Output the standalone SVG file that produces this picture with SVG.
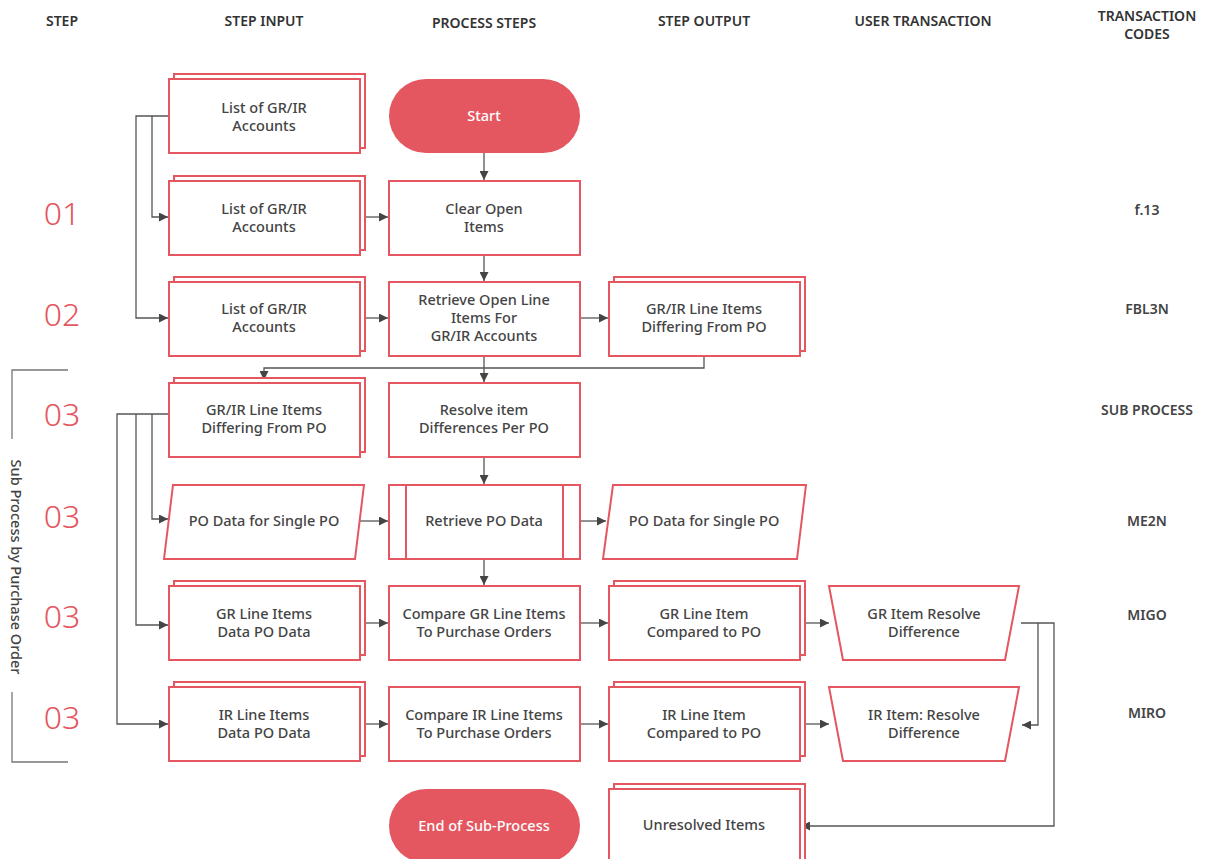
<svg xmlns="http://www.w3.org/2000/svg" width="1206" height="859" viewBox="0 0 1206 859">
<defs>
<style>
.box{fill:#fff;stroke:#E45760;stroke-width:2}
.pill{fill:#E45760;stroke:none}
.t{font-family:"Noto Sans","Liberation Sans",sans-serif;font-size:14.5px;font-weight:500;fill:#444;text-anchor:middle}
.tw{font-family:"Noto Sans","Liberation Sans",sans-serif;font-size:14.5px;font-weight:500;fill:#fff;text-anchor:middle}
.h{font-family:"Noto Sans","Liberation Sans",sans-serif;font-size:14px;font-weight:600;fill:#333;text-anchor:middle}
.num{font-family:"Noto Sans","Liberation Sans",sans-serif;font-size:32px;font-weight:300;fill:#E45760;text-anchor:middle}
.code{font-family:"Noto Sans","Liberation Sans",sans-serif;font-size:14px;font-weight:600;fill:#444;text-anchor:middle}
.side{font-family:"Noto Sans","Liberation Sans",sans-serif;font-size:14.5px;font-weight:500;fill:#444;text-anchor:middle}
.c{fill:none;stroke:#555;stroke-width:1.3}
.br{fill:none;stroke:#777;stroke-width:1.3}
</style>
<marker id="a" viewBox="0 0 10 10" refX="10" refY="5" markerWidth="9" markerHeight="9" markerUnits="userSpaceOnUse" orient="auto">
<path d="M0,0 L10,5 L0,10 z" fill="#444"/>
</marker>
</defs>

<g id="headers">
<text class="h" x="62" y="26">STEP</text>
<text class="h" x="264" y="26">STEP INPUT</text>
<text class="h" x="484" y="28">PROCESS STEPS</text>
<text class="h" x="704" y="26">STEP OUTPUT</text>
<text class="h" x="923" y="26">USER TRANSACTION</text>
<text class="h" x="1147" y="21">TRANSACTION</text>
<text class="h" x="1147" y="39">CODES</text>
</g>

<g id="step-numbers">
<text class="num" x="62" y="225">01</text>
<text class="num" x="62" y="326">02</text>
<text class="num" x="62" y="426">03</text>
<text class="num" x="62" y="528">03</text>
<text class="num" x="62" y="628">03</text>
<text class="num" x="62" y="729">03</text>
</g>

<g id="codes">
<text class="code" x="1147" y="215">f.13</text>
<text class="code" x="1147" y="314">FBL3N</text>
<text class="code" x="1147" y="415">SUB PROCESS</text>
<text class="code" x="1147" y="526">ME2N</text>
<text class="code" x="1147" y="620">MIGO</text>
<text class="code" x="1147" y="718">MIRO</text>
</g>

<g id="bracket">
<path class="br" d="M68,370 H12 V439 M12,692 V762 H68"/>
<text class="side" transform="translate(11,567) rotate(90)">Sub Process by Purchase Order</text>
</g>

<g id="connectors">
<path class="c" d="M169,116 H136 V318 H168" marker-end="url(#a)"/>
<path class="c" d="M152,116 V217 H168" marker-end="url(#a)"/>
<path class="c" d="M484,153 V180" marker-end="url(#a)"/>
<path class="c" d="M360,217 H388" marker-end="url(#a)"/>
<path class="c" d="M484,255 V281" marker-end="url(#a)"/>
<path class="c" d="M360,318 H388" marker-end="url(#a)"/>
<path class="c" d="M580,318 H608" marker-end="url(#a)"/>
<path class="c" d="M484,356 V382" marker-end="url(#a)"/>
<path class="c" d="M704,356 V368 H264 V380" marker-end="url(#a)"/>
<path class="c" d="M484,457 V484" marker-end="url(#a)"/>
<path class="c" d="M169,414 H117 V724 H168" marker-end="url(#a)"/>
<path class="c" d="M136,414 V625 H168" marker-end="url(#a)"/>
<path class="c" d="M152,414 V519 H168" marker-end="url(#a)"/>
<path class="c" d="M356,521 H388" marker-end="url(#a)"/>
<path class="c" d="M580,521 H606" marker-end="url(#a)"/>
<path class="c" d="M484,559 V585" marker-end="url(#a)"/>
<path class="c" d="M360,623 H388" marker-end="url(#a)"/>
<path class="c" d="M580,623 H608" marker-end="url(#a)"/>
<path class="c" d="M800,623 H829" marker-end="url(#a)"/>
<path class="c" d="M1021,623 H1054 V826 H801" marker-end="url(#a)"/>
<path class="c" d="M1038,623 V725 H1022" marker-end="url(#a)"/>
<path class="c" d="M360,724 H388" marker-end="url(#a)"/>
<path class="c" d="M580,724 H608" marker-end="url(#a)"/>
<path class="c" d="M800,724 H829" marker-end="url(#a)"/>
</g>

<g id="n-list1">
<rect class="box" x="174" y="74" width="191" height="74"/>
<rect class="box" x="169" y="79" width="191" height="74"/>
<text class="t" x="264" y="113">List of GR/IR</text>
<text class="t" x="264" y="131">Accounts</text>
</g>
<g id="n-start">
<rect class="pill" x="389" y="79" width="191" height="74" rx="37"/>
<text class="tw" x="484" y="121">Start</text>
</g>

<g id="n-list2">
<rect class="box" x="174" y="176" width="191" height="74"/>
<rect class="box" x="169" y="181" width="191" height="74"/>
<text class="t" x="264" y="214">List of GR/IR</text>
<text class="t" x="264" y="232">Accounts</text>
</g>
<g id="n-clear">
<rect class="box" x="389" y="181" width="191" height="74"/>
<text class="t" x="484" y="214">Clear Open</text>
<text class="t" x="484" y="232">Items</text>
</g>

<g id="n-list3">
<rect class="box" x="174" y="277" width="191" height="74"/>
<rect class="box" x="169" y="282" width="191" height="74"/>
<text class="t" x="264" y="314">List of GR/IR</text>
<text class="t" x="264" y="332">Accounts</text>
</g>
<g id="n-retrieve-open">
<rect class="box" x="389" y="282" width="191" height="74"/>
<text class="t" x="484" y="305">Retrieve Open Line</text>
<text class="t" x="484" y="323">Items For</text>
<text class="t" x="484" y="341">GR/IR Accounts</text>
</g>
<g id="n-grir-out">
<rect class="box" x="614" y="277" width="191" height="74"/>
<rect class="box" x="609" y="282" width="191" height="74"/>
<text class="t" x="704" y="314">GR/IR Line Items</text>
<text class="t" x="704" y="332">Differing From PO</text>
</g>

<g id="n-grir-in">
<rect class="box" x="174" y="378" width="191" height="74"/>
<rect class="box" x="169" y="383" width="191" height="74"/>
<text class="t" x="264" y="415">GR/IR Line Items</text>
<text class="t" x="264" y="433">Differing From PO</text>
</g>
<g id="n-resolve">
<rect class="box" x="389" y="383" width="191" height="74"/>
<text class="t" x="484" y="415">Resolve item</text>
<text class="t" x="484" y="433">Differences Per PO</text>
</g>

<g id="n-po-in">
<polygon class="box" points="173,485 364,485 355,559 164,559"/>
<text class="t" x="264" y="526">PO Data for Single PO</text>
</g>
<g id="n-retrieve-po">
<rect class="box" x="389" y="485" width="191" height="74"/>
<path class="box" d="M406,485 V559 M563,485 V559"/>
<text class="t" x="484" y="526">Retrieve PO Data</text>
</g>
<g id="n-po-out">
<polygon class="box" points="613,485 806,485 797,559 603,559"/>
<text class="t" x="704" y="526">PO Data for Single PO</text>
</g>

<g id="n-gr-in">
<rect class="box" x="174" y="581" width="191" height="74"/>
<rect class="box" x="169" y="586" width="191" height="74"/>
<text class="t" x="264" y="619">GR Line Items</text>
<text class="t" x="264" y="637">Data PO Data</text>
</g>
<g id="n-compare-gr">
<rect class="box" x="389" y="586" width="191" height="74"/>
<text class="t" x="484" y="619">Compare GR Line Items</text>
<text class="t" x="484" y="637">To Purchase Orders</text>
</g>
<g id="n-gr-out">
<rect class="box" x="614" y="581" width="191" height="74"/>
<rect class="box" x="609" y="586" width="191" height="74"/>
<text class="t" x="704" y="619">GR Line Item</text>
<text class="t" x="704" y="637">Compared to PO</text>
</g>
<g id="n-gr-resolve">
<polygon class="box" points="829,586 1019,586 1005,660 843,660"/>
<text class="t" x="924" y="619">GR Item Resolve</text>
<text class="t" x="924" y="637">Difference</text>
</g>

<g id="n-ir-in">
<rect class="box" x="174" y="682" width="191" height="74"/>
<rect class="box" x="169" y="687" width="191" height="74"/>
<text class="t" x="264" y="720">IR Line Items</text>
<text class="t" x="264" y="738">Data PO Data</text>
</g>
<g id="n-compare-ir">
<rect class="box" x="389" y="687" width="191" height="74"/>
<text class="t" x="484" y="720">Compare IR Line Items</text>
<text class="t" x="484" y="738">To Purchase Orders</text>
</g>
<g id="n-ir-out">
<rect class="box" x="614" y="682" width="191" height="74"/>
<rect class="box" x="609" y="687" width="191" height="74"/>
<text class="t" x="704" y="720">IR Line Item</text>
<text class="t" x="704" y="738">Compared to PO</text>
</g>
<g id="n-ir-resolve">
<polygon class="box" points="829,687 1019,687 1005,761 843,761"/>
<text class="t" x="924" y="720">IR Item: Resolve</text>
<text class="t" x="924" y="738">Difference</text>
</g>

<g id="n-end">
<rect class="pill" x="389" y="789" width="191" height="74" rx="37"/>
<text class="tw" x="484" y="831">End of Sub-Process</text>
</g>
<g id="n-unresolved">
<rect class="box" x="614" y="784" width="191" height="80"/>
<rect class="box" x="609" y="789" width="191" height="80"/>
<text class="t" x="704" y="830">Unresolved Items</text>
</g>
</svg>
